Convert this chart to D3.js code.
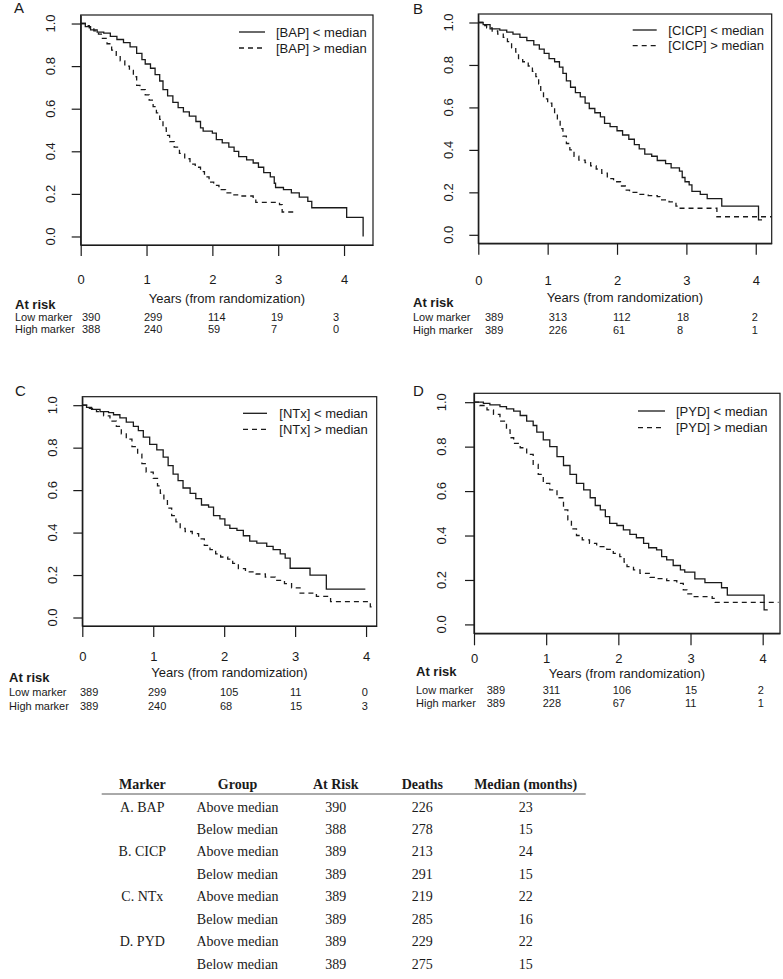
<!DOCTYPE html>
<html><head><meta charset="utf-8">
<script src="https://cdn.jsdelivr.net/npm/d3@7"></script>
<style>body{margin:0;background:#fff} svg{display:block}</style>
</head><body>
<svg id="c" width="783" height="979"></svg>
<script>
// ---------------- DATA ----------------
const xTicks = [0, 1, 2, 3, 4];
const yTicks = [0, 0.2, 0.4, 0.6, 0.8, 1.0];
const markers = ["BAP", "CICP", "NTx", "PYD"];
const panelLetters = ["A", "B", "C", "D"];
const riskRowLabels = ["Low marker", "High marker"];

// Kaplan-Meier steps: [years, survival]
const bapLow = [[0,1],[0.07,0.985],[0.15,0.97],[0.25,0.96],[0.35,0.955],[0.45,0.94],[0.55,0.925],[0.65,0.91],[0.75,0.89],[0.85,0.86],[0.93,0.83],[0.98,0.81],[1.06,0.79],[1.13,0.76],[1.2,0.73],[1.25,0.69],[1.32,0.66],[1.4,0.63],[1.48,0.605],[1.56,0.585],[1.65,0.565],[1.75,0.54],[1.82,0.51],[1.86,0.495],[2.0,0.485],[2.06,0.455],[2.15,0.44],[2.25,0.42],[2.33,0.40],[2.4,0.375],[2.52,0.36],[2.62,0.345],[2.7,0.325],[2.78,0.30],[2.88,0.28],[2.94,0.25],[2.96,0.23],[3.08,0.22],[3.2,0.205],[3.32,0.185],[3.45,0.165],[3.51,0.135],[4.04,0.09],[4.29,0.0]];
const bapHigh = [[0,1],[0.07,0.99],[0.13,0.98],[0.2,0.965],[0.27,0.95],[0.33,0.93],[0.4,0.905],[0.47,0.875],[0.54,0.85],[0.6,0.825],[0.67,0.8],[0.74,0.78],[0.8,0.75],[0.85,0.71],[0.9,0.69],[0.98,0.665],[1.04,0.64],[1.1,0.61],[1.15,0.58],[1.2,0.55],[1.25,0.51],[1.3,0.475],[1.35,0.445],[1.42,0.42],[1.5,0.39],[1.58,0.365],[1.66,0.34],[1.74,0.325],[1.82,0.305],[1.88,0.28],[1.95,0.255],[2.02,0.24],[2.1,0.22],[2.2,0.205],[2.3,0.195],[2.45,0.19],[2.62,0.175],[2.66,0.16],[3.02,0.15],[3.06,0.115],[3.27,0.115]];
const cicpLow = [[0,1],[0.07,0.99],[0.17,0.97],[0.31,0.964],[0.41,0.955],[0.5,0.945],[0.6,0.93],[0.7,0.915],[0.8,0.895],[0.88,0.875],[0.95,0.855],[1.02,0.83],[1.1,0.815],[1.17,0.79],[1.22,0.76],[1.27,0.725],[1.33,0.695],[1.4,0.67],[1.47,0.65],[1.54,0.62],[1.6,0.595],[1.68,0.575],[1.76,0.555],[1.82,0.525],[1.9,0.51],[2.0,0.49],[2.08,0.47],[2.17,0.45],[2.25,0.425],[2.32,0.405],[2.4,0.38],[2.5,0.37],[2.58,0.35],[2.7,0.335],[2.78,0.315],[2.9,0.3],[2.94,0.27],[2.98,0.25],[3.04,0.235],[3.08,0.205],[3.2,0.19],[3.3,0.17],[3.51,0.135],[4.04,0.07],[4.09,0.07]];
const cicpHigh = [[0,1],[0.06,0.985],[0.12,0.975],[0.2,0.96],[0.28,0.945],[0.36,0.93],[0.42,0.91],[0.48,0.88],[0.54,0.86],[0.58,0.83],[0.64,0.815],[0.72,0.795],[0.78,0.77],[0.83,0.745],[0.87,0.71],[0.9,0.68],[0.94,0.64],[1.0,0.62],[1.06,0.6],[1.1,0.57],[1.14,0.54],[1.18,0.5],[1.22,0.465],[1.27,0.43],[1.32,0.4],[1.38,0.37],[1.45,0.352],[1.54,0.34],[1.62,0.325],[1.7,0.31],[1.78,0.29],[1.86,0.265],[1.95,0.25],[2.05,0.23],[2.12,0.21],[2.18,0.2],[2.3,0.19],[2.45,0.185],[2.58,0.18],[2.62,0.165],[2.75,0.155],[2.85,0.135],[2.9,0.125],[3.44,0.085],[4.23,0.085]];
const ntxLow = [[0,1],[0.06,0.99],[0.13,0.98],[0.25,0.97],[0.37,0.965],[0.44,0.955],[0.53,0.94],[0.62,0.92],[0.72,0.9],[0.79,0.88],[0.86,0.85],[0.95,0.815],[1.05,0.79],[1.14,0.755],[1.21,0.715],[1.28,0.675],[1.35,0.645],[1.42,0.61],[1.52,0.585],[1.6,0.56],[1.68,0.53],[1.78,0.52],[1.85,0.48],[1.94,0.465],[2.01,0.435],[2.08,0.42],[2.18,0.41],[2.27,0.385],[2.36,0.36],[2.46,0.35],[2.6,0.335],[2.69,0.32],[2.79,0.3],[2.86,0.28],[2.93,0.232],[3.21,0.2],[3.44,0.134],[3.99,0.134]];
const ntxHigh = [[0,1],[0.1,0.985],[0.2,0.97],[0.3,0.95],[0.39,0.925],[0.48,0.9],[0.55,0.865],[0.62,0.84],[0.7,0.805],[0.78,0.77],[0.84,0.725],[0.9,0.685],[1.0,0.655],[1.06,0.62],[1.1,0.585],[1.15,0.55],[1.2,0.515],[1.26,0.48],[1.32,0.45],[1.38,0.42],[1.45,0.405],[1.55,0.395],[1.64,0.37],[1.72,0.34],[1.8,0.32],[1.88,0.3],[1.95,0.285],[2.05,0.275],[2.12,0.255],[2.2,0.23],[2.3,0.215],[2.45,0.205],[2.58,0.19],[2.72,0.175],[2.85,0.16],[2.95,0.14],[3.07,0.115],[3.3,0.1],[3.5,0.075],[4.06,0.05],[4.13,0.05]];
const pydLow = [[0,1],[0.13,0.995],[0.22,0.988],[0.36,0.98],[0.45,0.97],[0.55,0.96],[0.64,0.94],[0.73,0.915],[0.82,0.895],[0.87,0.865],[0.96,0.83],[1.05,0.8],[1.15,0.755],[1.24,0.715],[1.33,0.675],[1.42,0.635],[1.52,0.605],[1.61,0.57],[1.68,0.535],[1.75,0.515],[1.82,0.485],[1.88,0.455],[1.98,0.445],[2.07,0.425],[2.16,0.405],[2.25,0.39],[2.35,0.365],[2.42,0.345],[2.53,0.335],[2.6,0.305],[2.67,0.29],[2.76,0.265],[2.86,0.245],[2.92,0.235],[3.06,0.205],[3.2,0.188],[3.43,0.165],[3.51,0.132],[4.02,0.065],[4.07,0.065]];
const pydHigh = [[0,1],[0.08,0.985],[0.18,0.965],[0.27,0.945],[0.36,0.915],[0.45,0.875],[0.5,0.84],[0.55,0.815],[0.64,0.795],[0.73,0.765],[0.82,0.72],[0.89,0.675],[0.96,0.635],[1.05,0.605],[1.15,0.57],[1.24,0.515],[1.3,0.47],[1.35,0.43],[1.42,0.4],[1.5,0.38],[1.6,0.365],[1.7,0.35],[1.84,0.338],[1.93,0.32],[2.02,0.305],[2.08,0.28],[2.12,0.26],[2.21,0.245],[2.3,0.23],[2.44,0.212],[2.53,0.206],[2.67,0.197],[2.81,0.185],[2.9,0.155],[2.95,0.137],[3.04,0.125],[3.3,0.117],[3.34,0.099],[4.22,0.099]];

// numbers at risk (years 0..4)
const riskLowA = [390, 299, 114, 19, 3];
const riskHighA = [388, 240, 59, 7, 0];
const riskLowB = [389, 313, 112, 18, 2];
const riskHighB = [389, 226, 61, 8, 1];
const riskLowC = [389, 299, 105, 11, 0];
const riskHighC = [389, 240, 68, 15, 3];
const riskLowD = [389, 311, 106, 15, 2];
const riskHighD = [389, 228, 67, 11, 1];

// summary table
const tableHeaders = ["Marker", "Group", "At Risk", "Deaths", "Median (months)"];
const tableMarker = ["A. BAP", "", "B. CICP", "", "C. NTx", "", "D. PYD", ""];
const tableGroup = ["Above median", "Below median", "Above median", "Below median", "Above median", "Below median", "Above median", "Below median"];
const tableAtRisk = [390, 388, 389, 389, 389, 389, 389, 389];
const tableDeaths = [226, 278, 213, 291, 219, 285, 229, 275];
const tableMedian = [23, 15, 24, 15, 22, 16, 22, 15];

// ---------------- LAYOUT ----------------
const panels = [
  {low: bapLow, high: bapHigh, rl: riskLowA, rh: riskHighA,
   box: [80.7, 373, 15, 245], xmax: 4.44, letter: [14, 13],
   ylab: 25.5, xlabDy: 39.3, titleY: 303, tick: 11,
   leg: {x0: 239, x1: 265, tx: 276, y: [32, 48]},
   risk: {lx: 15, ay: 308.7, ly: [321.3, 333], cols: [82, 144, 208, 271, 333]}},
  {low: cicpLow, high: cicpHigh, rl: riskLowB, rh: riskHighB,
   box: [478.3, 771.7, 14, 243.3], xmax: 4.23, letter: [413, 14],
   ylab: 25, xlabDy: 41.5, titleY: 301.5, tick: 11.5,
   leg: {x0: 632.7, x1: 656.7, tx: 668.3, y: [30, 45.7]},
   risk: {lx: 413, ay: 307, ly: [320.7, 333.5], cols: [485, 548.7, 613, 677, 751.7]}},
  {low: ntxLow, high: ntxHigh, rl: riskLowC, rh: riskHighC,
   box: [82.3, 376.7, 396.7, 626], xmax: 4.15, letter: [15, 396],
   ylab: 25, xlabDy: 35.3, titleY: 677, tick: 11,
   leg: {x0: 243, x1: 267, tx: 279.3, y: [413.3, 429.3]},
   risk: {lx: 9, ay: 681.5, ly: [696, 710], cols: [80, 148, 220, 290, 361.7]}},
  {low: pydLow, high: pydHigh, rl: riskLowD, rh: riskHighD,
   box: [474, 780, 393.3, 633.3], xmax: 4.24, letter: [413, 396],
   ylab: 28, xlabDy: 29.5, titleY: 678.3, tick: 12,
   leg: {x0: 638, x1: 665, tx: 676, y: [411, 427.7]},
   risk: {lx: 416, ay: 676, ly: [694, 707], cols: [486.7, 542.7, 612.7, 685, 757.7]}}
];

const svg = d3.select("#c");
const SANS = "'Liberation Sans', Arial, Helvetica, sans-serif";
const SERIF = "'Liberation Serif', 'Times New Roman', serif";
const INK = "#1a1a1a";
const DASH = "5,4";
const fmtY = d3.format(".1f");

panels.forEach((p, i) => {
  const [bx0, bx1, by0, by1] = p.box;
  const x = d3.scaleLinear().domain([0, p.xmax]).range([bx0, bx1]);
  const y = d3.scaleLinear().domain([-0.04, 1.04]).range([by1, by0]);
  const g = svg.append("g");

  // curves
  const line = d3.line().x(d => x(d[0])).y(d => y(d[1])).curve(d3.curveStepAfter);
  g.append("path").attr("d", line(p.low)).attr("fill", "none")
    .attr("stroke", INK).attr("stroke-width", 1.3);
  g.append("path").attr("d", line(p.high)).attr("fill", "none")
    .attr("stroke", INK).attr("stroke-width", 1.3).attr("stroke-dasharray", DASH);

  // box
  g.append("rect").attr("x", bx0).attr("y", by0).attr("width", bx1 - bx0).attr("height", by1 - by0)
    .attr("fill", "none").attr("stroke", INK).attr("stroke-width", 1.2);

  // x axis
  const xa = g.append("g").attr("transform", `translate(0,${by1})`)
    .call(d3.axisBottom(x).tickValues(xTicks).tickSize(p.tick).tickSizeOuter(0).tickFormat(d3.format("d")));
  xa.select(".domain").attr("stroke", INK).attr("stroke-width", 1.2);
  xa.selectAll(".tick line").attr("stroke", INK).attr("stroke-width", 1.2);
  xa.selectAll(".tick text").attr("y", p.xlabDy).attr("dy", null)
    .attr("font-family", SANS).attr("font-size", 13).attr("fill", INK);

  // y axis
  const ya = g.append("g").attr("transform", `translate(${bx0},0)`)
    .call(d3.axisLeft(y).tickValues(yTicks).tickSize(9).tickSizeOuter(0).tickFormat(() => ""));
  ya.select(".domain").attr("stroke", INK).attr("stroke-width", 1.2);
  ya.selectAll(".tick line").attr("stroke", INK).attr("stroke-width", 1.2);
  ya.selectAll(".tick text").remove();
  g.selectAll(".ylab").data(yTicks).join("text")
    .attr("transform", d => `translate(${bx0 - p.ylab},${y(d)}) rotate(-90)`)
    .attr("text-anchor", "middle").attr("font-family", SANS).attr("font-size", 13).attr("fill", INK)
    .text(d => fmtY(d));

  // axis title
  g.append("text").attr("x", (bx0 + bx1) / 2).attr("y", p.titleY).attr("text-anchor", "middle")
    .attr("font-family", SANS).attr("font-size", 13).attr("fill", INK)
    .text("Years (from randomization)");

  // panel letter
  g.append("text").attr("x", p.letter[0]).attr("y", p.letter[1])
    .attr("font-family", SANS).attr("font-size", 15).attr("fill", INK).text(panelLetters[i]);

  // legend
  const legItems = [`[${markers[i]}] < median`, `[${markers[i]}] > median`];
  legItems.forEach((t, k) => {
    g.append("line").attr("x1", p.leg.x0).attr("x2", p.leg.x1).attr("y1", p.leg.y[k]).attr("y2", p.leg.y[k])
      .attr("stroke", INK).attr("stroke-width", 1.3).attr("stroke-dasharray", k ? DASH : null);
    g.append("text").attr("x", p.leg.tx).attr("y", p.leg.y[k] + 4.6)
      .attr("font-family", SANS).attr("font-size", 13).attr("fill", INK).text(t);
  });

  // at-risk table
  g.append("text").attr("x", p.risk.lx).attr("y", p.risk.ay)
    .attr("font-family", SANS).attr("font-size", 13).attr("font-weight", "bold").attr("fill", INK).text("At risk");
  const col = d3.scaleOrdinal().domain(xTicks).range(p.risk.cols);
  [p.rl, p.rh].forEach((vals, r) => {
    g.append("text").attr("x", p.risk.lx).attr("y", p.risk.ly[r])
      .attr("font-family", SANS).attr("font-size", 11).attr("fill", INK).text(riskRowLabels[r]);
    g.selectAll(null).data(vals).join("text")
      .attr("x", (d, j) => col(xTicks[j])).attr("y", p.risk.ly[r])
      .attr("font-family", SANS).attr("font-size", 11).attr("fill", INK).text(d => d);
  });
});

// ---------------- SUMMARY TABLE ----------------
const colX = d3.scaleOrdinal().domain(tableHeaders).range([142.3, 237.5, 335.7, 422.3, 525.7]);
const rowY = d3.scaleLinear().domain([0, 7]).range([811.5, 968.5]);
const tg = svg.append("g").attr("font-family", SERIF).attr("font-size", 14).attr("fill", INK).attr("text-anchor", "middle");
tg.selectAll(".hd").data(tableHeaders).join("text")
  .attr("x", d => colX(d)).attr("y", 788.5).attr("font-weight", "bold").text(d => d);
tg.append("line").attr("x1", 101.7).attr("x2", 585.7).attr("y1", 794).attr("y2", 794)
  .attr("stroke", "#555").attr("stroke-width", 1);
const cols = [tableMarker, tableGroup, tableAtRisk, tableDeaths, tableMedian];
cols.forEach((arr, c) => {
  tg.selectAll(null).data(arr).join("text")
    .attr("x", colX(tableHeaders[c])).attr("y", (d, r) => rowY(r)).text(d => d);
});
</script>
</body></html>
